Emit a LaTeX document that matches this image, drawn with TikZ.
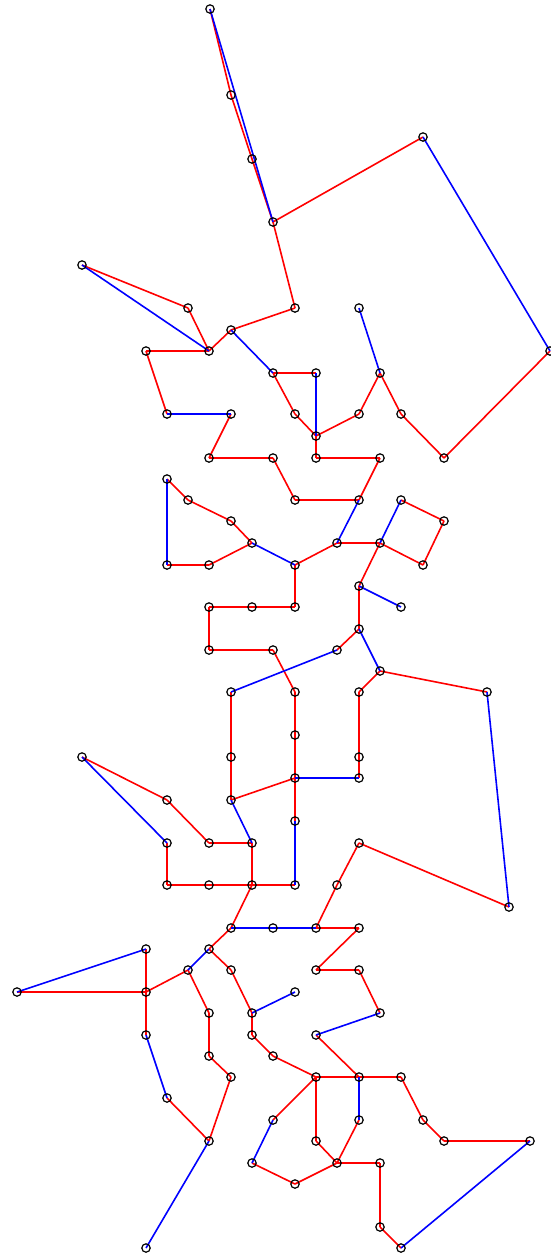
\documentclass[tikz,border=0pt]{standalone}
\begin{document}
\begin{tikzpicture}[x=1bp,y=-1bp,
  ptnode/.style={circle,minimum size=8.5bp,inner sep=0pt},
  ptring/.style={draw=black,line width=1.2bp},
  redline/.style={draw=red,line width=1.6bp},
  blueline/.style={draw=blue,line width=1.6bp}]
\useasboundingbox (0,0) rectangle (551,1256);
\def\nodelist{
A1/210/9, A2/231/95, A3/252/159, A4/273/222, B1/423/137, B2/550/351, B3/444/458,
A5/295/308, A6/231/330, C1/209/351, C2/146/351, C3/167/414, C4/231/414, C5/209/458,
C6/273/458, C7/295/500, C8/359/500, C9/380/458, E1/82/265, E2/188/308,
D1/273/373, D2/316/373, D3/295/414, D4/316/436, D5/316/458,
F1/359/414, F2/380/373, F3/359/308, F4/401/414,
G1/167/479, G2/188/500, G3/231/521, G4/252/543, G5/295/565, G6/167/565, G7/209/565,
H1/337/543, H2/380/543, H3/401/500, H4/444/521, H5/423/565, H6/359/586, H7/401/607, H8/359/629,
I1/295/607, I2/252/607, I3/209/607, I4/209/650, I5/273/650,
J1/295/692, J2/337/650, J3/231/692, J4/380/671, J5/359/692, J6/487/692, J7/509/907,
K1/231/757, K2/231/800, K3/295/735, K4/295/778, K5/359/757, K6/359/778, K7/295/821,
E3/82/757, E4/167/800, L1/167/843, L2/209/843, L3/252/843, L4/167/885, L5/209/885,
L6/295/885, L7/252/885, M1/231/928, M2/273/928, M3/316/928, M4/359/928, N1/337/885, N2/359/843,
M5/209/949, O1/188/970, O2/231/970, O3/146/992, O4/17/992, O5/146/949, O6/146/1035,
O7/167/1098, O8/209/1141, O9/146/1248, P1/209/1013, P2/209/1056, P3/231/1077,
Q1/252/1013, Q2/295/992, Q3/252/1035, Q4/273/1056,
R1/316/1077, R2/359/1077, R3/401/1077, R4/423/1120, R5/444/1141, R6/530/1141,
S1/316/970, S2/359/970, S3/380/1013, S4/316/1035, T1/401/1248,
U1/273/1120, U2/252/1163, U3/295/1184, U4/337/1163, U5/380/1163, U6/380/1227,
U7/316/1141, U8/359/1120}
\foreach \n/\x/\y in \nodelist
  \node[ptnode] (\n) at (\x,\y) {};
\foreach \a/\b in {
A1/A2, A2/A3, A3/A4, A4/B1, B2/B3, A4/A5, A5/A6, A6/C1, E1/E2, E2/C1, C1/C2, C2/C3,
C4/C5, C5/C6, C6/C7, C7/C8, C8/C9, C9/D5, D5/D4, D1/D2, D1/D3, D3/D4, D4/F1, F1/F2,
F2/F4, F4/B3, G1/G2, G2/G3, G3/G4, G4/G7, G7/G6, G5/H1, H1/H2, H3/H4, H4/H5, H5/H2,
H2/H6, H6/H8, G5/I1, I1/I2, I2/I3, I3/I4, I4/I5, I5/J1, H8/J2, J4/J5, J4/J6, J3/K1,
K1/K2, J1/K3, K3/K4, J5/K5, K5/K6, K4/K2, K4/K7, E3/E4, E4/L2, L2/L3, L1/L4, L4/L5,
L5/L7, L7/L6, L3/L7, L7/M1, M3/M4, M3/N1, N1/N2, N2/J7, M1/M5, M5/O2, O1/O3, O3/O4,
O5/O3, O3/O6, O7/O8, O1/P1, P1/P2, P2/P3, P3/O8, O2/Q1, Q1/Q3, Q3/Q4, Q4/R1, M4/S1,
S1/S2, S2/S3, S4/R2, R1/R2, R2/R3, R3/R4, R4/R5, R5/R6, R1/U1, U2/U3, U3/U4, U4/U5,
U5/U6, U6/T1, R1/U7, U7/U4, U8/U4}
  \draw[redline] (\a.center) -- (\b.center);
\foreach \a/\b in {
A1/A4, B1/B2, A6/D1, E1/C1, F2/F3, C3/C4, D2/D4, G1/G6, G4/G5, C8/H1, H2/H3, H6/H7,
J2/J3, H8/J4, J6/J7, K6/K4, K2/L3, K7/L6, E3/L1, M1/M2, M2/M3, M5/O1, O4/O5, O6/O7,
O8/O9, Q1/Q2, S3/S4, R6/T1, U1/U2, R2/U8}
  \draw[blueline] (\a.center) -- (\b.center);
\foreach \n/\x/\y in \nodelist
  \draw[ptring] (\n.center) circle[radius=4.2bp];
\end{tikzpicture}
\end{document}
